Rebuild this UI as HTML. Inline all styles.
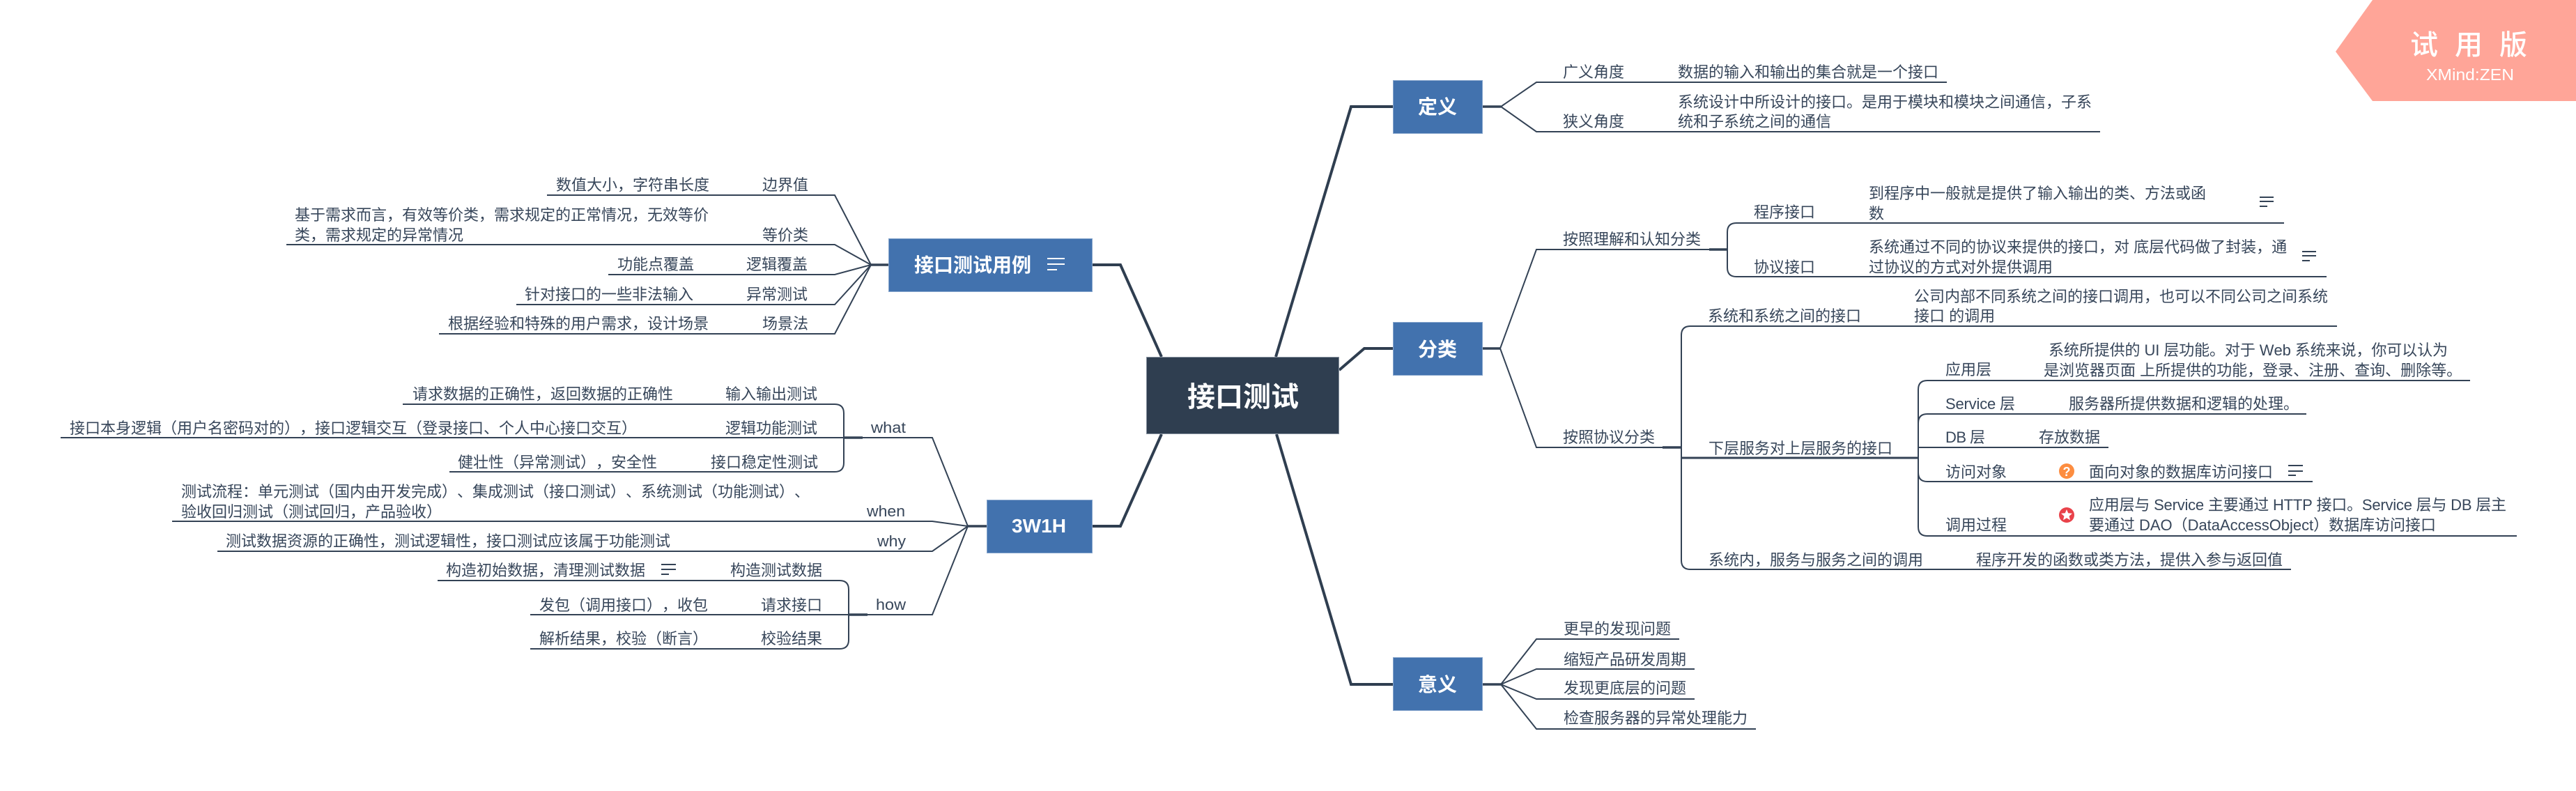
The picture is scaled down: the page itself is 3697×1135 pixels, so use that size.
<!DOCTYPE html>
<html>
<head>
<meta charset="utf-8">
<style>
html,body{margin:0;padding:0;background:#fff;width:3697px;height:1135px;overflow:hidden}
svg{display:block}
text{font-family:"Liberation Sans","Noto Sans CJK SC",sans-serif;font-size:22px;fill:#37465a;text-spacing-trim:space-all;font-kerning:none}
.n{fill:#fff;font-weight:bold;font-size:28px}
.l{fill:none;stroke:#334255;stroke-width:2}
.t{fill:none;stroke:#2f3e50;stroke-width:4}
.s{fill:none;stroke:#334255;stroke-width:3.5}
.m{fill:none;stroke:#334255;stroke-width:2}
</style>
</head>
<body>
<svg xmlns="http://www.w3.org/2000/svg" width="3697" height="1135" viewBox="0 0 3697 1135">
<rect width="3697" height="1135" fill="#fff"/>

<!-- watermark -->
<polygon points="3405,0 3352,74 3405,145 3697,145 3697,0" fill="#ffa598"/>
<text x="3459" y="78" style="font-size:40px;letter-spacing:24px;fill:#fff;font-weight:500">试用版</text>
<text x="3482" y="115" textLength="126" lengthAdjust="spacingAndGlyphs" style="font-size:23px;fill:#fff">XMind:ZEN</text>

<!-- trunks -->
<path class="t" d="M1831,512 L1939,153 H1999"/>
<path class="t" d="M1922,531 L1958,500 H2000"/>
<path class="t" d="M1832,623 L1939,982 H1999"/>
<path class="t" d="M1667,512 L1608,380 H1567"/>
<path class="t" d="M1667,623 L1608,755 H1567"/>

<!-- 定义 -->
<path class="s" d="M2127,153 H2154"/>
<path class="l" d="M2154,153 L2205,118 H2794"/>
<path class="l" d="M2154,153 L2205,189 H3014"/>

<!-- 分类 -->
<path class="s" d="M2127,500 H2153"/>
<path class="l" d="M2153,500 L2205,358 H2479"/>
<path class="s" d="M2453,358 H2479"/>
<path class="l" d="M3278,320 H2492 Q2479,320 2479,333 V384 Q2479,397 2492,397 H3339"/>
<path class="l" d="M2153,500 L2205,642 H2413"/>
<path class="s" d="M2386,642 H2413"/>
<path class="l" d="M3354,468 H2426 Q2413,468 2413,481 V804 Q2413,817 2426,817 H3288"/>
<path class="s" d="M2413,657 H2753" style="stroke-width:3"/>
<path class="l" d="M3545,546 H2766 Q2753,546 2753,559 V756 Q2753,769 2766,769 H3612"/>
<path class="l" d="M3310,594 H2766 Q2753,594 2753,607"/>
<path class="l" d="M2753,642 H3026"/>
<path class="l" d="M3319,691 H2766 Q2753,691 2753,678"/>

<!-- 意义 -->
<path class="s" d="M2127,982 H2154"/>
<path class="l" d="M2154,982 L2205,917 H2410"/>
<path class="l" d="M2154,982 L2205,960 H2432"/>
<path class="l" d="M2154,982 L2205,1003 H2432"/>
<path class="l" d="M2154,982 L2205,1046 H2520"/>

<!-- 接口测试用例 -->
<path class="s" d="M1250,380 H1275"/>
<path class="l" d="M1250,380 L1198,280 H785"/>
<path class="l" d="M1250,380 L1198,351 H411"/>
<path class="l" d="M1250,380 L1198,394 H873"/>
<path class="l" d="M1250,380 L1198,437 H741"/>
<path class="l" d="M1250,380 L1198,479 H630"/>

<!-- 3W1H -->
<path class="s" d="M1389,755 H1416"/>
<path class="l" d="M1389,755 L1338,628 H87"/>
<path class="s" d="M1211,628 H1238"/>
<path class="l" d="M578,580 H1198 Q1211,580 1211,593 V664 Q1211,677 1198,677 H645"/>
<path class="l" d="M1389,755 L1338,748 H247"/>
<path class="l" d="M1389,755 L1338,791 H312"/>
<path class="l" d="M1389,755 L1338,882 H761"/>
<path class="s" d="M1218,882 H1245"/>
<path class="l" d="M628,833 H1205 Q1218,833 1218,846 V918 Q1218,931 1205,931 H761"/>

<!-- nodes -->
<rect x="1645.5" y="512.5" width="276" height="110" fill="#2f3e50" stroke="#8893a0"/>
<text class="n" x="1704" y="583" style="font-size:40px">接口测试</text>

<rect x="1999.5" y="115.5" width="128" height="76" fill="#4272ae" stroke="#86a5cc"/>
<text class="n" x="2035" y="163">定义</text>
<rect x="1999.5" y="462.5" width="128" height="76" fill="#4272ae" stroke="#86a5cc"/>
<text class="n" x="2035" y="511">分类</text>
<rect x="1999.5" y="943.5" width="128" height="76" fill="#4272ae" stroke="#86a5cc"/>
<text class="n" x="2035" y="992">意义</text>
<rect x="1275.5" y="342.5" width="292" height="76" fill="#4272ae" stroke="#86a5cc"/>
<text class="n" x="1312" y="390">接口测试用例</text>
<path d="M1503,371 H1528 M1503,379 H1528 M1503,387 H1517" fill="none" stroke="#fff" stroke-width="2"/>
<rect x="1416.5" y="717.5" width="151" height="76" fill="#4272ae" stroke="#86a5cc"/>
<text class="n" x="1452" y="764" textLength="78" lengthAdjust="spacingAndGlyphs">3W1H</text>

<!-- 定义 text -->
<text x="2243" y="111">广义角度</text>
<text x="2408" y="111">数据的输入和输出的集合就是一个接口</text>
<text x="2243" y="182">狭义角度</text>
<text x="2408" y="154">系统设计中所设计的接口。是用于模块和模块之间通信，子系</text>
<text x="2408" y="182">统和子系统之间的通信</text>

<!-- 分类 text -->
<text x="2243" y="351">按照理解和认知分类</text>
<text x="2517" y="312">程序接口</text>
<text x="2682" y="285">到程序中一般就是提供了输入输出的类、方法或函</text>
<text x="2682" y="314">数</text>
<path class="m" d="M3243,283 H3263 M3243,289 H3263 M3243,296 H3254"/>
<text x="2517" y="391">协议接口</text>
<text x="2682" y="362">系统通过不同的协议来提供的接口，对 底层代码做了封装，通</text>
<text x="2682" y="391">过协议的方式对外提供调用</text>
<path class="m" d="M3304,361 H3324 M3304,367 H3324 M3304,374 H3315"/>

<text x="2243" y="635">按照协议分类</text>
<text x="2451" y="461">系统和系统之间的接口</text>
<text x="2747" y="433">公司内部不同系统之间的接口调用，也可以不同公司之间系统</text>
<text x="2747" y="461">接口 的调用</text>
<text x="2452" y="651">下层服务对上层服务的接口</text>
<text x="2452" y="811">系统内，服务与服务之间的调用</text>
<text x="2836" y="811">程序开发的函数或类方法，提供入参与返回值</text>

<text x="2792" y="538">应用层</text>
<text x="2940" y="510" textLength="573">系统所提供的 UI 层功能。对于 Web 系统来说，你可以认为</text>
<text x="2933" y="539">是浏览器页面 上所提供的功能，登录、注册、查询、删除等。</text>
<text x="2792" y="587" textLength="100">Service 层</text>
<text x="2969" y="587">服务器所提供数据和逻辑的处理。</text>
<text x="2792" y="635" textLength="57">DB 层</text>
<text x="2926" y="635">存放数据</text>
<text x="2792" y="685">访问对象</text>
<circle cx="2966" cy="676" r="11" fill="#fd8d40"/>
<text x="2966" y="683" text-anchor="middle" style="font-size:18px;font-weight:bold;fill:#fff">?</text>
<text x="2998" y="685">面向对象的数据库访问接口</text>
<path class="m" d="M3284,668 H3305 M3284,676 H3305 M3284,682 H3295"/>
<text x="2792" y="761">调用过程</text>
<circle cx="2966" cy="739" r="11" fill="#e9424a"/>
<polygon points="2966,731 2968.2,736.3 2974,736.8 2969.6,740.6 2971,746.2 2966,743.2 2961,746.2 2962.4,740.6 2958,736.8 2963.8,736.3" fill="#fff"/>
<text x="2998" y="732" textLength="599">应用层与 Service 主要通过 HTTP 接口。Service 层与 DB 层主</text>
<text x="2998" y="761" textLength="498">要通过 DAO（DataAccessObject）数据库访问接口</text>

<!-- 意义 text -->
<text x="2244" y="910">更早的发现问题</text>
<text x="2244" y="954">缩短产品研发周期</text>
<text x="2244" y="995">发现更底层的问题</text>
<text x="2244" y="1038">检查服务器的异常处理能力</text>

<!-- 接口测试用例 text -->
<text x="798" y="273">数值大小，字符串长度</text>
<text x="1094" y="273">边界值</text>
<text x="423" y="316">基于需求而言，有效等价类，需求规定的正常情况，无效等价</text>
<text x="423" y="345">类，需求规定的异常情况</text>
<text x="1094" y="345">等价类</text>
<text x="886" y="387">功能点覆盖</text>
<text x="1071" y="387">逻辑覆盖</text>
<text x="753" y="430">针对接口的一些非法输入</text>
<text x="1071" y="430">异常测试</text>
<text x="643" y="472">根据经验和特殊的用户需求，设计场景</text>
<text x="1094" y="472">场景法</text>

<!-- 3W1H text -->
<text x="592" y="573">请求数据的正确性，返回数据的正确性</text>
<text x="1041" y="573">输入输出测试</text>
<text x="100" y="622" textLength="814">接口本身逻辑（用户名密码对的），接口逻辑交互（登录接口、个人中心接口交互）</text>
<text x="1041" y="622">逻辑功能测试</text>
<text x="657" y="671" textLength="286">健壮性（异常测试），安全性</text>
<text x="1020" y="671">接口稳定性测试</text>
<text x="1250" y="621" textLength="50" lengthAdjust="spacingAndGlyphs">what</text>

<text x="260" y="713" textLength="902">测试流程：单元测试（国内由开发完成）、集成测试（接口测试）、系统测试（功能测试）、</text>
<text x="260" y="742" textLength="374">验收回归测试（测试回归，产品验收）</text>
<text x="1244" y="741" textLength="55" lengthAdjust="spacingAndGlyphs">when</text>
<text x="324" y="784">测试数据资源的正确性，测试逻辑性，接口测试应该属于功能测试</text>
<text x="1259" y="784" textLength="41" lengthAdjust="spacingAndGlyphs">why</text>

<text x="640" y="826">构造初始数据，清理测试数据</text>
<path class="m" d="M949,810 H970 M949,817 H970 M949,824 H960"/>
<text x="1048" y="826">构造测试数据</text>
<text x="774" y="876" textLength="242">发包（调用接口），收包</text>
<text x="1092" y="876">请求接口</text>
<text x="1257" y="875" textLength="43" lengthAdjust="spacingAndGlyphs">how</text>
<text x="774" y="924" textLength="242">解析结果，校验（断言）</text>
<text x="1092" y="924">校验结果</text>
</svg>
</body>
</html>
